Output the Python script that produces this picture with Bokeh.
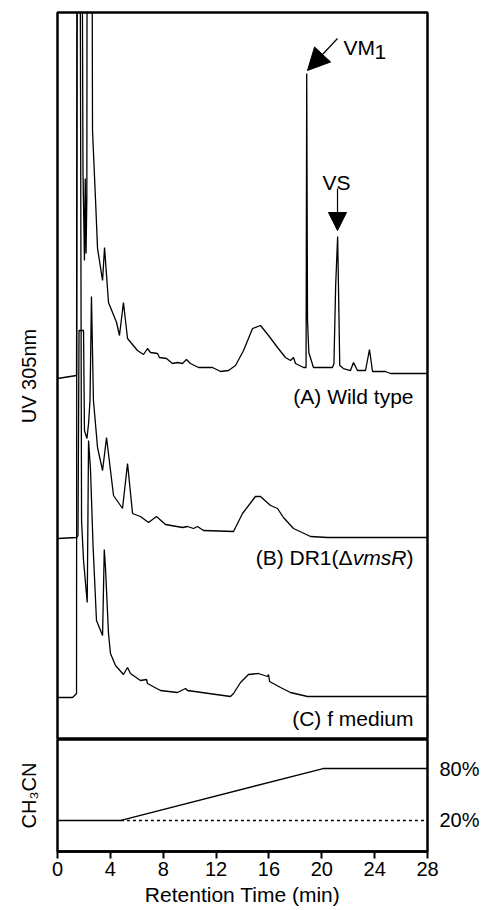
from bokeh.plotting import figure
from bokeh.layouts import column
from bokeh.models import Range1d, FixedTicker, LinearAxis, Arrow, NormalHead
from bokeh.core.properties import value
from bokeh.embed import file_html
from bokeh.resources import INLINE

FONT = "Liberation Sans"

# ---- data (retention time in min, detector response in arbitrary units above each baseline) ----
time_a = [0.00, 1.44, 1.55, 1.74, 1.93, 2.04, 2.10, 2.16, 2.22, 2.27, 2.54, 2.65, 2.88, 3.03,
          3.41, 3.56, 3.86, 4.47, 4.69, 4.99, 5.30, 6.05, 6.28, 6.51, 6.81, 7.04, 7.57, 7.72,
          8.25, 8.70, 9.08, 9.46, 9.76, 10.06, 10.67, 11.73, 12.34, 12.94, 13.47, 14.08, 14.76,
          15.36, 15.97, 16.65, 17.25, 17.63, 17.86, 18.01, 18.62, 18.81, 18.86, 18.92, 19.02,
          19.37, 20.81, 20.92, 21.05, 21.20, 21.28, 21.36, 21.64, 22.17, 22.40, 22.70, 23.31,
          23.61, 23.84, 24.82, 25.20, 28.00]
uv_a = [0, 3, 900, 900, 206, 118, 200, 125, 180, 900, 900, 248, 178, 130,
        98, 131, 76, 56, 43, 76, 40, 28, 26, 24, 30, 26, 25, 21,
        20, 15, 16, 15, 19, 15, 11, 11, 7, 8, 13, 28, 50,
        53, 43, 31, 21, 18, 21, 15, 11, 11, 305, 58, 26,
        11, 11, 15, 93, 142, 78, 13, 10, 8, 16, 8, 8,
        29, 7, 7, 5, 5]

time_b = [0.00, 1.44, 1.55, 1.63, 1.97, 2.04, 2.23, 2.35, 2.46, 2.57, 2.72, 3.03, 3.41, 3.71,
          4.24, 4.92, 5.30, 5.68, 6.28, 6.89, 7.49, 8.17, 9.46, 9.84, 10.29, 10.59, 11.05,
          13.32, 14.00, 14.98, 15.36, 16.12, 16.65, 17.10, 17.86, 19.15, 20.43, 28.00]
uv_b = [0, 1, 3, 208, 208, 108, 100, 115, 138, 242, 138, 91, 68, 101,
        43, 30, 75, 25, 22, 16, 22, 14, 11, 12, 10, 12, 8,
        7, 25, 42, 42, 33, 30, 21, 10, 2, 1, 1]

time_c = [0.00, 1.14, 1.44, 1.48, 1.69, 1.82, 1.97, 2.25, 2.35, 2.50, 2.69, 2.95, 3.41, 3.54,
          3.63, 3.86, 4.01, 4.39, 4.99, 5.30, 5.52, 6.28, 6.74, 6.81, 7.79, 9.08, 9.69, 9.84,
          13.09, 13.32, 13.85, 14.45, 15.21, 15.89, 15.97, 16.05, 16.88, 17.63, 18.92, 28.00]
uv_c = [0, 0, 4, 900, 900, 177, 137, 95, 257, 227, 152, 77, 62, 148,
        130, 64, 44, 32, 23, 30, 24, 17, 18, 14, 7, 5, 9, 7,
        1, 4, 15, 23, 24, 21, 23, 16, 10, 5, 1, 1]

grad_time = [0, 4.8, 20.1, 28]
grad_pct = [20, 20, 80, 80]
dotted_time = [4.8, 28]
dotted_pct = [20, 20]

x_ticks = [0, 4, 8, 12, 16, 20, 24, 28]
pct_ticks = [20, 80]
pct_labels = ["20%", "80%"]

# offsets that stack the three chromatograms
offset_a, offset_b, offset_c = 361, 201, 42

W = 485
xr = Range1d(0, 28)

top = figure(width=W, height=739, x_range=xr, y_range=Range1d(0, 727),
             output_backend="svg", toolbar_location=None, x_axis_location=None,
             min_border_left=57, min_border_right=58, min_border_top=12, min_border_bottom=0)
top.grid.visible = False
top.outline_line_color = "black"
top.outline_line_width = 2.5
top.background_fill_color = "white"

ya = top.yaxis[0]
ya.ticker = FixedTicker(ticks=[])
ya.axis_line_color = None
ya.major_tick_line_color = None
ya.minor_tick_line_color = None
ya.axis_label = "UV 305nm"
ya.axis_label_text_font = FONT
ya.axis_label_text_font_size = "20px"
ya.axis_label_text_font_style = "normal"
ya.axis_label_text_color = "black"
ya.axis_label_standoff = 18

for t, u, off in ((time_a, uv_a, offset_a), (time_b, uv_b, offset_b), (time_c, uv_c, offset_c)):
    top.line(t, [v + off for v in u], line_color="black", line_width=1.3)

lbl = dict(text_font=value(FONT), text_font_size="21px", text_color="black")
top.text(x=[26.94], y=[343.5], text=["(A) Wild type"], text_align="right",
         text_baseline="alphabetic", **lbl)
top.text(x=[26.94], y=[182], text=[")"], text_align="right", text_baseline="alphabetic", **lbl)
top.text(x=[26.94], y=[182], text=["vmsR"], text_align="right", text_baseline="alphabetic",
         x_offset=-7, text_font_style="italic", **lbl)
top.text(x=[26.94], y=[182], text=["(B) DR1(\u0394"], text_align="right",
         text_baseline="alphabetic", x_offset=-61, **lbl)
top.text(x=[26.94], y=[21], text=["(C) f medium"], text_align="right",
         text_baseline="alphabetic", **lbl)

top.text(x=[21.64], y=[692], text=["VM"], text_align="left", text_baseline="alphabetic", **lbl)
top.text(x=[21.64], y=[692], text=["1"], text_align="left", text_baseline="alphabetic",
         x_offset=31, y_offset=4, **lbl)
top.text(x=[21.11], y=[557], text=["VS"], text_align="center", text_baseline="alphabetic",
         text_font=value(FONT), text_font_size="21px", text_color="black")

top.add_layout(Arrow(end=NormalHead(size=22, fill_color="black", line_color="black"),
                     x_start=21.19, y_start=701, x_end=18.92, y_end=669,
                     line_color="black", line_width=1.2))
top.add_layout(Arrow(end=NormalHead(size=18, fill_color="black", line_color="black"),
                     x_start=21.19, y_start=551, x_end=21.19, y_end=509,
                     line_color="black", line_width=1.2))

bot = figure(width=W, height=169, x_range=xr, y_range=Range1d(-15.8, 113.5),
             output_backend="svg", toolbar_location=None,
             min_border_left=57, min_border_right=58, min_border_top=0, min_border_bottom=57)
bot.grid.visible = False
bot.outline_line_color = "black"
bot.outline_line_width = 2.5

xa = bot.xaxis[0]
xa.ticker = FixedTicker(ticks=x_ticks)
xa.axis_line_width = 2.5
xa.major_tick_line_width = 2
xa.major_tick_out = 7
xa.major_tick_in = 0
xa.minor_tick_line_color = None
xa.major_label_text_font = FONT
xa.major_label_text_font_size = "20px"
xa.major_label_text_color = "black"
xa.major_label_standoff = 3
xa.axis_label = "Retention Time (min)"
xa.axis_label_text_font = FONT
xa.axis_label_text_font_size = "21px"
xa.axis_label_text_font_style = "normal"
xa.axis_label_text_color = "black"
xa.axis_label_standoff = 4

yl = bot.yaxis[0]
yl.ticker = FixedTicker(ticks=[])
yl.axis_line_color = None
yl.major_tick_line_color = None
yl.minor_tick_line_color = None
yl.axis_label = "CH\u2083CN"
yl.axis_label_text_font = FONT
yl.axis_label_text_font_size = "20px"
yl.axis_label_text_font_style = "normal"
yl.axis_label_text_color = "black"
yl.axis_label_standoff = 18

yr = LinearAxis(ticker=FixedTicker(ticks=pct_ticks),
                major_label_overrides={k: s for k, s in zip(pct_ticks, pct_labels)})
yr.axis_line_color = None
yr.major_tick_line_color = None
yr.minor_tick_line_color = None
yr.major_tick_out = 0
yr.major_tick_in = 0
yr.major_label_standoff = 12
yr.major_label_text_font = FONT
yr.major_label_text_font_size = "20px"
yr.major_label_text_color = "black"
bot.add_layout(yr, "right")

bot.line(grad_time, grad_pct, line_color="black", line_width=1.3)
bot.line(dotted_time, dotted_pct, line_color="black", line_width=1.5, line_dash="3 3")

layout = column(top, bot)
open("out.html", "w").write(file_html(layout, INLINE))
